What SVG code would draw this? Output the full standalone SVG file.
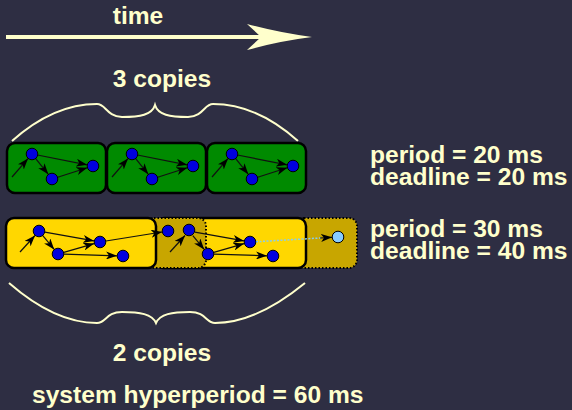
<svg xmlns="http://www.w3.org/2000/svg" width="572" height="410" viewBox="0 0 572 410">
<style>
.t{font-family:"Liberation Sans",Arial,sans-serif;font-weight:bold;font-size:24.6px;fill:#ffffcc}
.br{fill:none;stroke:#ffffcc;stroke-width:2}
.n{fill:#0000dd;stroke:#000;stroke-width:1}
.e{stroke:#111;stroke-width:1.2;fill:none;marker-end:url(#ah)}
.g{fill:#008a00;stroke:#000;stroke-width:2.5}
.y{fill:#ffd700;stroke:#000;stroke-width:2.5}
.o{fill:#c8a600;stroke:#000;stroke-width:2;stroke-dasharray:1.5 2}
</style>
<defs>
<marker id="ah" markerUnits="userSpaceOnUse" markerWidth="12" markerHeight="8" refX="11" refY="4" orient="auto">
<path d="M0,0 L11,4 L0,8 L3,4 Z" fill="#000"/>
</marker>
<g id="gjob">
<line class="e" x1="12" y1="177" x2="28" y2="158.6"/>
<line class="e" x1="37.4" y1="155" x2="87.1" y2="164.8"/>
<line class="e" x1="35.7" y1="158.7" x2="48.3" y2="174.3"/>
<line class="e" x1="57.7" y1="177.2" x2="87.3" y2="167.8"/>
<circle class="n" cx="32" cy="154" r="5.8"/>
<circle class="n" cx="52" cy="179" r="5.8"/>
<circle class="n" cx="93" cy="166" r="5.8"/>
</g>
</defs>
<rect width="572" height="410" fill="#2e2e43"/>

<g id="time-arrow">
<line x1="6" y1="37" x2="262" y2="37" stroke="#ffffcc" stroke-width="4"/>
<path d="M247,24 Q280,33 312,37 Q280,41 247,50 L261,37 Z" fill="#ffffcc"/>
<text class="t" x="138" y="24" text-anchor="middle">time</text>
</g>

<g id="brace-top">
<path class="br" d="M12,141 C40,116 70,104 97,104 C106,104 106,116 122,117 C140,117 152,115 155,105 C158,115 170,117 188,117 C204,116 204,104 213,104 C240,104 270,116 298,141"/>
<text class="t" x="162" y="87" text-anchor="middle">3 copies</text>
</g>

<g id="green-jobs">
<g id="green1">
<rect class="g" x="7" y="143" width="99" height="50" rx="8"/>
<use href="#gjob"/>
</g>
<g id="green2">
<rect class="g" x="107" y="143" width="99" height="50" rx="8"/>
<use href="#gjob" x="100"/>
</g>
<g id="green3">
<rect class="g" x="207" y="143" width="99" height="50" rx="8"/>
<use href="#gjob" x="200"/>
</g>
</g>

<g id="yellow-jobs">
<rect id="olive2" class="o" x="296" y="218" width="61" height="50" rx="8"/>
<rect id="yellow2" class="y" x="156" y="218" width="150" height="50" rx="8"/>
<rect id="olive1" class="o" x="146" y="218" width="60" height="50" rx="8"/>
<rect id="yellow1" class="y" x="6" y="218" width="150" height="50" rx="8"/>
</g>

<g id="connectors">
<line class="e" x1="20" y1="252" x2="35" y2="235.5"/>
<line class="e" x1="44.9" y1="232.1" x2="94.1" y2="240.9"/>
<line class="e" x1="42.8" y1="235.6" x2="54.2" y2="249.4"/>
<line class="e" x1="63.8" y1="252.4" x2="94.2" y2="243.6"/>
<line class="e" x1="64" y1="254.2" x2="117" y2="255.8"/>
<line class="e" x1="105.9" y1="241" x2="162.1" y2="232"/>
<line class="e" x1="170" y1="252" x2="185" y2="235.5"/>
<line class="e" x1="194.9" y1="232.1" x2="244.1" y2="240.9"/>
<line class="e" x1="192.8" y1="235.6" x2="204.2" y2="249.4"/>
<line class="e" x1="213.8" y1="252.4" x2="244.2" y2="243.6"/>
<line class="e" x1="214" y1="254.2" x2="267" y2="255.8"/>
<line x1="256" y1="241.7" x2="322" y2="237.9" stroke="#88ccee" stroke-width="1.5" stroke-dasharray="2 1.5"/>
<line class="e" x1="320" y1="238" x2="332" y2="237.3"/>
</g>

<g id="yellow-nodes">
<circle class="n" cx="39" cy="231" r="5.8"/>
<circle class="n" cx="58" cy="254" r="5.8"/>
<circle class="n" cx="100" cy="242" r="5.8"/>
<circle class="n" cx="123" cy="256" r="5.8"/>
<circle class="n" cx="168" cy="231" r="5.8"/>
<circle class="n" cx="189" cy="230" r="5.8"/>
<circle class="n" cx="208" cy="254" r="5.8"/>
<circle class="n" cx="250" cy="242" r="5.8"/>
<circle class="n" cx="273" cy="256" r="5.8"/>
<circle cx="338" cy="237" r="5.8" fill="#88ccff" stroke="#000" stroke-width="1"/>
</g>

<g id="brace-bottom">
<path class="br" d="M9,283 C40,310 70,323 97,323 C106,323 106,312 122,312 C140,312 152,314 156,323 C160,314 172,312 190,312 C206,312 206,323 215,323 C242,323 272,310 305,283"/>
<text class="t" x="162" y="361" text-anchor="middle">2 copies</text>
</g>

<g id="labels">
<text class="t" x="370" y="163">period = 20 ms</text>
<text class="t" x="370" y="185">deadline = 20 ms</text>
<text class="t" x="370" y="237">period = 30 ms</text>
<text class="t" x="370" y="259">deadline = 40 ms</text>
<text class="t" x="32" y="403">system hyperperiod = 60 ms</text>
</g>
</svg>
